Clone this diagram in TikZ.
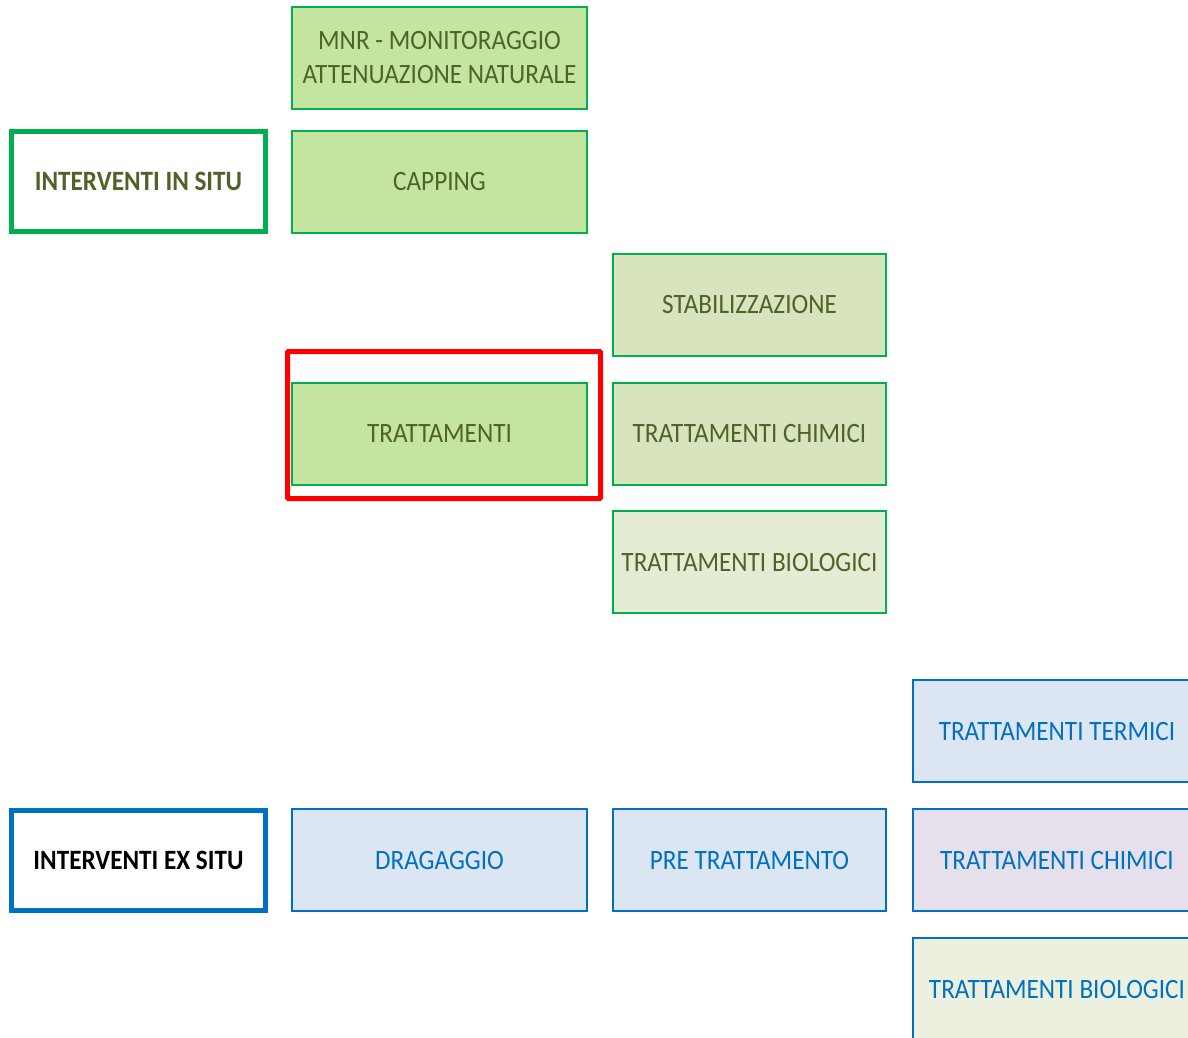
\documentclass[tikz,border=0pt]{standalone}
\usepackage{fontspec}
\setmainfont{Carlito}[FakeStretch=0.9]
\usetikzlibrary{positioning}

\definecolor{insitu}{HTML}{00B050}
\definecolor{exsitu}{HTML}{0070C0}
\definecolor{olive}{HTML}{4F6228}
\definecolor{verdeA}{HTML}{C4E5A0}
\definecolor{verdeB}{HTML}{D7E4BD}
\definecolor{verdeC}{HTML}{E4EDD4}
\definecolor{azzurro}{HTML}{DCE6F2}
\definecolor{lilla}{HTML}{E6E0EC}
\definecolor{verdeD}{HTML}{EBF1DE}

\tikzset{
  base/.style={rectangle, inner sep=0pt, align=center, font=\fontsize{28}{34}\selectfont},
  titolo/.style={base, line width=5pt, minimum width=254pt, minimum height=100pt, font=\bfseries\fontsize{28}{34}\selectfont},
  verde/.style={base, draw=insitu, line width=2pt, text=olive, minimum height=102pt},
  blu/.style={base, draw=exsitu, line width=2pt, text=exsitu, minimum height=102pt},
}

\begin{document}
\begin{tikzpicture}[x=1pt,y=-1pt]
        \clip (0,0) rectangle (1188,1037);
        \fill[white] (0,0) rectangle (1188,1037);

        % Interventi in situ
        \node[titolo, draw=insitu, text=olive] (insitu) at (138.5,181.5) {INTERVENTI IN SITU};
        \node[verde, fill=verdeA, minimum width=295pt] (mnr) at (439.5,58) {MNR - MONITORAGGIO\\ATTENUAZIONE NATURALE};
        \node[verde, fill=verdeA, minimum width=295pt] (capping) at (439.5,182) {CAPPING};
        \node[verde, fill=verdeA, minimum width=295pt] (tratt) at (439.5,434) {TRATTAMENTI};
        \node[verde, fill=verdeB, minimum width=273pt] (stab) at (749.5,305) {STABILIZZAZIONE};
        \node[verde, fill=verdeB, minimum width=273pt] (chim) at (749.5,434) {TRATTAMENTI CHIMICI};
        \node[verde, fill=verdeC, minimum width=273pt] (bio) at (749.5,562) {TRATTAMENTI BIOLOGICI};

        % Evidenziazione
        \draw[red, line width=5pt, rounded corners=1pt] (287.5,351.5) rectangle (600.5,498.5);

        % Interventi ex situ
        \node[titolo, draw=exsitu, text=black] (exsitu) at (138.5,860) {INTERVENTI EX SITU};
        \node[blu, fill=azzurro, minimum width=295pt] (drag) at (439.5,860) {DRAGAGGIO};
        \node[blu, fill=azzurro, minimum width=273pt] (pre) at (749.5,860) {PRE TRATTAMENTO};
        \node[blu, fill=azzurro, minimum width=289pt] (termici) at (1057,731) {TRATTAMENTI TERMICI};
        \node[blu, fill=lilla, minimum width=289pt] (exchim) at (1057,860) {TRATTAMENTI CHIMICI};
        \node[blu, fill=verdeD, minimum width=289pt] (exbio) at (1057,989) {TRATTAMENTI BIOLOGICI};
\end{tikzpicture}
\end{document}
